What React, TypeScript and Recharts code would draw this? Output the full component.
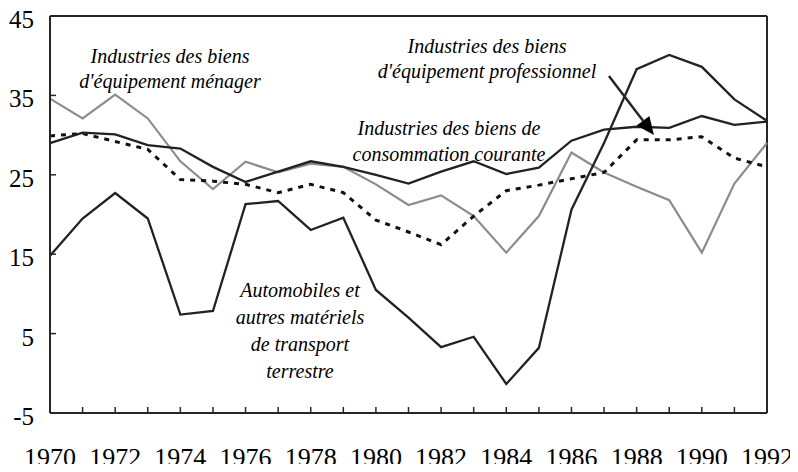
import { Customized, Line, LineChart, ReferenceLine, XAxis, YAxis } from "recharts";

const years = [
  1970, 1971, 1972, 1973, 1974, 1975, 1976, 1977, 1978, 1979, 1980, 1981,
  1982, 1983, 1984, 1985, 1986, 1987, 1988, 1989, 1990, 1991, 1992,
];

// biens d'équipement ménager (gris)
const menager = [
  34.6, 32.1, 35.1, 32.1, 26.7, 23.2, 26.65, 25.3, 26.4, 26.0, 23.8, 21.2,
  22.4, 19.8, 15.2, 19.8, 27.8, 25.3, 23.5, 21.8, 15.2, 23.9, 29.0,
];

// biens d'équipement professionnel
const professionnel = [
  29.0, 30.3, 30.1, 28.75, 28.3, 26.0, 24.1, 25.4, 26.7, 26.0, 25.0, 23.9,
  25.4, 26.7, 25.1, 25.9, 29.3, 30.7, 31.05, 30.9, 32.4, 31.3, 31.7,
];

// biens de consommation courante (pointillés)
const consommation = [
  29.9, 30.2, 29.2, 28.2, 24.4, 24.2, 23.8, 22.75, 23.8, 22.75, 19.3, 17.8,
  16.2, 19.8, 23.0, 23.7, 24.5, 25.3, 29.4, 29.4, 29.8, 27.1, 26.0,
];

// automobiles et autres matériels de transport terrestre
const automobiles = [
  14.8, 19.5, 22.7, 19.5, 7.4, 7.85, 21.3, 21.7, 18.05, 19.6, 10.5, 7.0, 3.3,
  4.6, -1.35, 3.2, 20.6, 29.0, 38.3, 40.1, 38.6, 34.5, 31.8,
];

const yTicks = [-5, 5, 15, 25, 35, 45];

// arrow: from label to the professionnel line (data coords)
const arrowFrom = { x: 1987.15, y: 37.45 };
const arrowTo = { x: 1988.53, y: 30.0 };

const data = years.map((year, i) => ({
  year,
  menager: menager[i],
  professionnel: professionnel[i],
  consommation: consommation[i],
  automobiles: automobiles[i],
}));

const FONT = '"Liberation Serif", "Times New Roman", Times, "DejaVu Serif", serif';
const INK = "#262626";

function XTick(props: any) {
  const { x, y, payload } = props;
  const year = payload.value;
  return (
    <g>
      {year > 1970 && year < 1992 && (
        <line x1={x} x2={x} y1={y} y2={y - 6} stroke={INK} strokeWidth={1.5} />
      )}
      {year % 2 === 0 && (
        <text x={x} y={y + 53} textAnchor="middle" style={{ fontFamily: FONT, fontSize: 26 }} fill="#000">
          {year}
        </text>
      )}
    </g>
  );
}

function YTick(props: any) {
  const { x, y, payload } = props;
  const v = payload.value;
  return (
    <g>
      {v > -5 && v < 45 && <line x1={x} x2={x + 6} y1={y} y2={y} stroke={INK} strokeWidth={1.5} />}
      <text x={x - 16} y={y + 12} textAnchor="end" style={{ fontFamily: FONT, fontSize: 25 }} fill="#000">
        {v}
      </text>
    </g>
  );
}

function Arrow(props: any) {
  const { x1, y1, x2, y2 } = props;
  const dx = x2 - x1;
  const dy = y2 - y1;
  const len = Math.hypot(dx, dy) || 1;
  const ux = dx / len;
  const uy = dy / len;
  const head = 18;
  const half = 8;
  const bx = x2 - ux * head;
  const by = y2 - uy * head;
  return (
    <g>
      <line x1={x1} y1={y1} x2={bx} y2={by} stroke={INK} strokeWidth={2.5} />
      <polygon
        points={`${x2},${y2} ${bx - uy * half},${by + ux * half} ${bx + uy * half},${by - ux * half}`}
        fill="#000"
      />
    </g>
  );
}

function Notes() {
  return (
    <g style={{ fontFamily: FONT, fontStyle: "italic", fontSize: 20 }} fill="#000" textAnchor="middle">
      <text x={170} y={63}>Industries des biens</text>
      <text x={170} y={88}>d'équipement ménager</text>
      <text x={487} y={53}>Industries des biens</text>
      <text x={487} y={78}>d'équipement professionnel</text>
      <text x={449} y={135}>Industries des biens de</text>
      <text x={449} y={161}>consommation courante</text>
      <text x={300} y={297}>Automobiles et</text>
      <text x={300} y={324}>autres matériels</text>
      <text x={300} y={351}>de transport</text>
      <text x={300} y={378}>terrestre</text>
    </g>
  );
}

export default function App() {
  return (
    <div style={{ margin: -8, width: 798, height: 472, background: "#fff" }}>
      <LineChart width={798} height={472} data={data} margin={{ top: 16, right: 31, bottom: 0, left: 0 }}>
        <XAxis
          dataKey="year"
          type="number"
          domain={[1970, 1992]}
          ticks={years}
          interval={0}
          height={59}
          tickSize={0}
          tickMargin={0}
          tickLine={false}
          axisLine={{ stroke: INK, strokeWidth: 2 }}
          tick={<XTick />}
        />
        <YAxis
          type="number"
          domain={[-5, 45]}
          ticks={yTicks}
          interval={0}
          width={50}
          tickSize={0}
          tickMargin={0}
          tickLine={false}
          axisLine={{ stroke: INK, strokeWidth: 2 }}
          tick={<YTick />}
        />
        <ReferenceLine y={45} stroke={INK} strokeWidth={2} />
        <ReferenceLine x={1992} stroke={INK} strokeWidth={2} />
        <Line dataKey="menager" stroke="#8c8c8c" strokeWidth={2.2} dot={false} isAnimationActive={false} />
        <Line
          dataKey="consommation"
          stroke="#111"
          strokeWidth={3}
          strokeDasharray="5 6"
          dot={false}
          isAnimationActive={false}
        />
        <Line dataKey="professionnel" stroke="#222" strokeWidth={2.3} dot={false} isAnimationActive={false} />
        <Line dataKey="automobiles" stroke="#222" strokeWidth={2.3} dot={false} isAnimationActive={false} />
        <ReferenceLine segment={[arrowFrom, arrowTo]} shape={Arrow} />
        <Customized component={Notes} />
      </LineChart>
    </div>
  );
}
